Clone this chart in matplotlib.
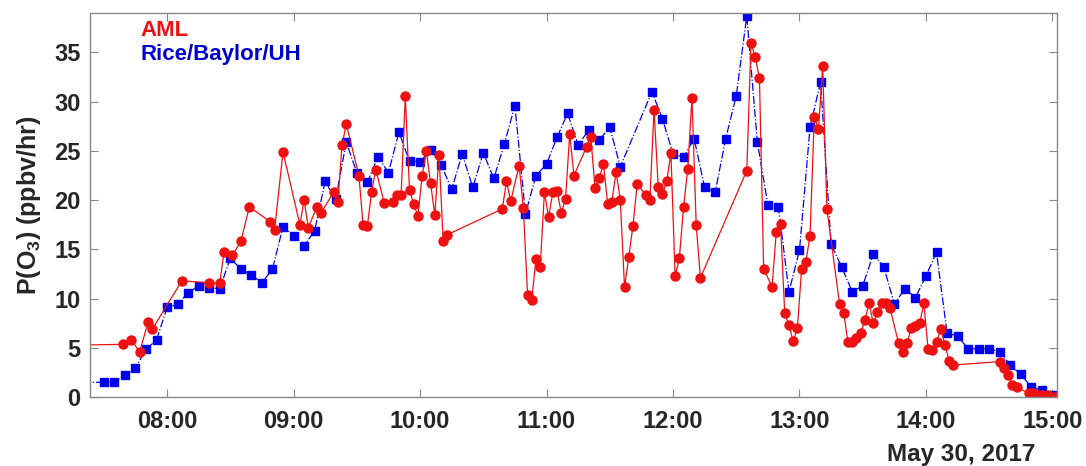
import pandas as pd
import matplotlib
matplotlib.use('Agg')
import matplotlib.pyplot as plt
import matplotlib.dates as mdates

day = '2017-05-30 '

# AML (red circles)
aml_time = ['07:10', '07:39', '07:43', '07:47', '07:51', '07:53', '08:07', '08:20', '08:25',
            '08:27', '08:31', '08:35', '08:39', '08:49', '08:51', '08:55', '09:03', '09:05',
            '09:07', '09:11', '09:13', '09:19', '09:21', '09:23', '09:25', '09:31', '09:33',
            '09:35', '09:37', '09:39', '09:43', '09:47', '09:49', '09:51', '09:53', '09:55',
            '09:57', '09:59', '10:01', '10:03', '10:05', '10:07', '10:09', '10:11', '10:13',
            '10:39', '10:41', '10:43', '10:47', '10:49', '10:51', '10:53', '10:55', '10:57',
            '10:59', '11:01', '11:03', '11:05', '11:07', '11:09', '11:11', '11:13', '11:19',
            '11:21', '11:23', '11:25', '11:27', '11:29', '11:31', '11:33', '11:35', '11:37',
            '11:39', '11:41', '11:43', '11:47', '11:49', '11:51', '11:53', '11:55', '11:57',
            '11:59', '12:01', '12:03', '12:05', '12:07', '12:09', '12:11', '12:13', '12:35',
            '12:37', '12:39', '12:41', '12:43', '12:47', '12:49', '12:51', '12:53', '12:55',
            '12:57', '12:59', '13:01', '13:03', '13:05', '13:07', '13:09', '13:11', '13:13',
            '13:19', '13:21', '13:23', '13:25', '13:27', '13:29', '13:31', '13:33', '13:35',
            '13:37', '13:39', '13:41', '13:43', '13:47', '13:49', '13:51', '13:53', '13:55',
            '13:57', '13:59', '14:01', '14:03', '14:05', '14:07', '14:09', '14:11', '14:13',
            '14:35', '14:37', '14:39', '14:41', '14:43', '14:49', '14:51', '14:53', '14:55',
            '14:58', '15:01']
aml_po3 = [5.25, 5.35, 5.8, 4.6, 7.6, 6.9, 11.8, 11.6, 11.6,
           14.7, 14.4, 15.8, 19.3, 17.8, 17.0, 24.9, 17.5, 20.0,
           17.2, 19.3, 18.7, 20.8, 19.8, 25.6, 27.7, 22.5, 17.45,
           17.35, 20.8, 23.1, 19.75, 19.8, 20.5, 20.5, 30.6, 21.0,
           19.6, 18.4, 22.5, 25.0, 21.7, 18.5, 24.6, 15.8, 16.5,
           19.1, 21.9, 19.9, 23.5, 19.2, 10.4, 9.9, 14.05, 13.2,
           20.8, 18.3, 20.8, 20.9, 18.7, 20.1, 26.7, 22.5, 25.4,
           26.45, 21.2, 22.2, 23.7, 19.6, 19.85, 22.9, 20.0, 11.15,
           14.2, 17.4, 21.6, 20.55, 20.0, 29.2, 21.3, 20.6, 21.9,
           24.8, 12.3, 14.1, 19.3, 23.2, 30.4, 17.5, 12.1, 23.0,
           36.0, 34.5, 32.4, 13.0, 11.2, 16.8, 17.6, 8.5, 7.3,
           5.66, 7.0, 13.0, 13.7, 16.4, 28.4, 27.2, 33.6, 19.1,
           9.45, 8.5, 5.56, 5.62, 5.96, 6.5, 7.8, 9.5, 7.5,
           8.6, 9.5, 9.5, 9.0, 5.45, 4.54, 5.45, 7.0, 7.2,
           7.5, 9.5, 4.85, 4.78, 5.56, 6.9, 5.28, 3.7, 3.25,
           3.6, 2.9, 2.24, 1.22, 0.98, 0.37, 0.37, 0.24, 0.2,
           0.2, 0.05]

# Rice/Baylor/UH (blue squares, 5-min data)
rbu_time = ['07:20', '07:30', '07:35', '07:40', '07:45', '07:50', '07:55', '08:00', '08:05',
            '08:10', '08:15', '08:20', '08:25', '08:30', '08:35', '08:40', '08:45', '08:50',
            '08:55', '09:00', '09:05', '09:10', '09:15', '09:20', '09:25', '09:30', '09:35',
            '09:40', '09:45', '09:50', '09:55', '10:00', '10:05', '10:10', '10:15', '10:20',
            '10:25', '10:30', '10:35', '10:40', '10:45', '10:50', '10:55', '11:00', '11:05',
            '11:10', '11:15', '11:20', '11:25', '11:30', '11:35', '11:50', '11:55', '12:00',
            '12:05', '12:10', '12:15', '12:20', '12:25', '12:30', '12:35', '12:40', '12:45',
            '12:50', '12:55', '13:00', '13:05', '13:10', '13:15', '13:20', '13:25', '13:30',
            '13:35', '13:40', '13:45', '13:50', '13:55', '14:00', '14:05', '14:10', '14:15',
            '14:20', '14:25', '14:30', '14:35', '14:40', '14:45', '14:50', '14:55', '15:00']
rbu_po3 = [1.5, 1.5, 1.5, 2.25, 2.95, 4.85, 5.8, 9.1, 9.4,
           10.6, 11.3, 11.1, 11.0, 14.1, 13.0, 12.4, 11.6, 13.0,
           17.3, 16.4, 15.35, 16.9, 21.9, 20.1, 25.9, 22.8, 21.8,
           24.4, 22.8, 26.9, 23.95, 23.9, 25.1, 23.6, 21.1, 24.7,
           21.3, 24.8, 22.2, 25.7, 29.6, 18.6, 22.5, 23.65, 26.4,
           28.8, 25.6, 27.1, 26.1, 27.4, 23.4, 31.0, 28.25, 24.7,
           24.35, 26.25, 21.3, 20.8, 26.25, 30.6, 38.7, 25.9, 19.5,
           19.3, 10.7, 14.9, 27.4, 32.0, 15.5, 13.2, 10.7, 11.3,
           14.5, 13.2, 9.45, 11.0, 10.1, 12.3, 14.7, 6.5, 6.2,
           4.9, 4.9, 4.9, 4.6, 3.25, 2.3, 1.0, 0.7, 0.2]

aml_t = pd.to_datetime([day + t for t in aml_time])
rbu_t = pd.to_datetime([day + t for t in rbu_time])

plt.rcParams['font.family'] = ['Liberation Sans', 'DejaVu Sans']
plt.rcParams['font.weight'] = 'bold'
plt.rcParams['mathtext.fontset'] = 'custom'
plt.rcParams['mathtext.rm'] = 'Liberation Sans:bold'
plt.rcParams['mathtext.default'] = 'rm'

fig = plt.figure(figsize=(10.86, 4.66), dpi=100)
ax = fig.add_axes([0.083, 0.148, 0.890, 0.824])

ax.plot(rbu_t, rbu_po3, '-.', color='#0000ee', lw=0.9, marker='s', ms=5.3,
        mec='#0000ee', mfc='#0000ee')
ax.plot(aml_t, aml_po3, '-', color='#ee1111', lw=0.9, marker='o', ms=6.5,
        mec='#ee1111', mfc='#ee1111')

ax.set_xlim(pd.Timestamp(day + '07:23:30'), pd.Timestamp(day + '15:02'))
ax.set_ylim(0, 39)
ax.set_yticks([0, 5, 10, 15, 20, 25, 30, 35])
ax.xaxis.set_major_locator(mdates.HourLocator())
ax.xaxis.set_major_formatter(mdates.DateFormatter('%H:%M'))

for s in ax.spines.values():
    s.set_color('#888888')
    s.set_linewidth(1.0)
ax.tick_params(direction='in', length=6, width=0.8, color='#888888',
               top=True, right=True, labelsize=17, labelcolor='#262626')
ax.tick_params(axis='x', pad=9)
ax.tick_params(axis='y', pad=7)
for lab in ax.get_xticklabels() + ax.get_yticklabels():
    lab.set_fontweight('bold')

ax.set_ylabel('P(O$_3$) (ppbv/hr)', fontsize=18, fontweight='bold', color='#262626',
              labelpad=8)
fig.text(0.953, 0.024, 'May 30, 2017', ha='right', va='center', fontsize=17.5,
         fontweight='bold', color='#262626')

# labels standing in for the legend
ax.text(0.052, 0.940, 'AML', transform=ax.transAxes, color='#ee1111', fontsize=16,
        fontweight='bold', va='baseline')
ax.text(0.052, 0.878, 'Rice/Baylor/UH', transform=ax.transAxes, color='#0000cc',
        fontsize=16, fontweight='bold', va='baseline')

plt.savefig('out.png', dpi=100)
